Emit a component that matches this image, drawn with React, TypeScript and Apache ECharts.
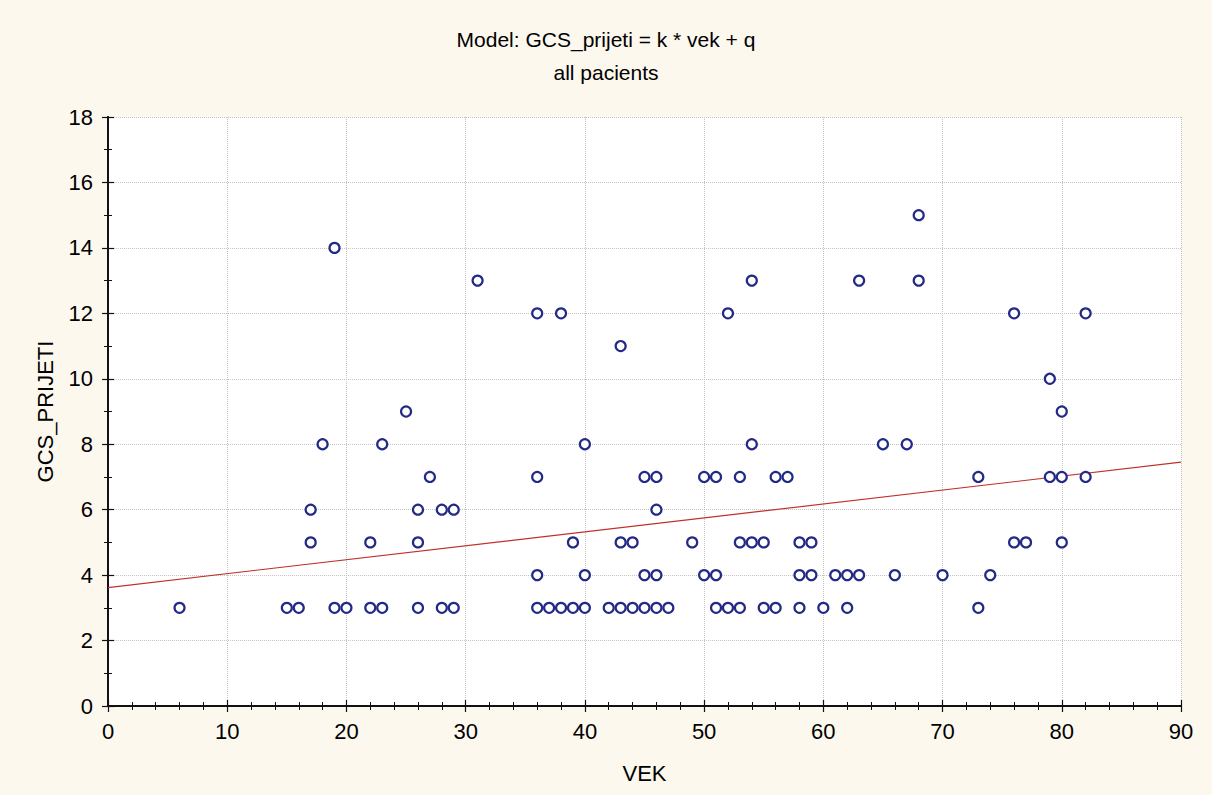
import React, { useEffect, useRef } from "react";
import * as echarts from "echarts";

// Ages (VEK) of patients grouped by their GCS_PRIJETI value
const gcsLevels = [3, 4, 5, 6, 7, 8, 9, 10, 11, 12, 13, 14, 15];
const agesAtGcs3 = [6, 15, 16, 19, 20, 22, 23, 26, 28, 29, 36, 37, 38, 39, 40, 42, 43, 44, 45, 46, 47, 51, 52, 53, 55, 56, 58, 60, 62, 73];
const agesAtGcs4 = [36, 40, 45, 46, 50, 51, 58, 59, 61, 62, 63, 66, 70, 74];
const agesAtGcs5 = [17, 22, 26, 39, 43, 44, 49, 53, 54, 55, 58, 59, 76, 77, 80];
const agesAtGcs6 = [17, 26, 28, 29, 46];
const agesAtGcs7 = [27, 36, 45, 46, 50, 51, 53, 56, 57, 73, 79, 80, 82];
const agesAtGcs8 = [18, 23, 40, 54, 65, 67];
const agesAtGcs9 = [25, 80];
const agesAtGcs10 = [79];
const agesAtGcs11 = [43];
const agesAtGcs12 = [36, 38, 52, 76, 82];
const agesAtGcs13 = [31, 54, 63, 68];
const agesAtGcs14 = [19];
const agesAtGcs15 = [68];
const agesByLevel = [agesAtGcs3, agesAtGcs4, agesAtGcs5, agesAtGcs6, agesAtGcs7, agesAtGcs8, agesAtGcs9, agesAtGcs10, agesAtGcs11, agesAtGcs12, agesAtGcs13, agesAtGcs14, agesAtGcs15];

// Fitted model line GCS_prijeti = k * vek + q (endpoints)
const fitX = [0, 90];
const fitY = [3.62, 7.45];

const titleText = "Model: GCS_prijeti = k * vek + q";
const subtitleText = "all pacients";
const xName = "VEK";
const yName = "GCS_PRIJETI";

export default function App() {
  const ref = useRef<HTMLDivElement>(null);
  useEffect(() => {
    if (!ref.current) return;
    const chart = echarts.init(ref.current, null, { renderer: "svg" });
    const points: number[][] = [];
    gcsLevels.forEach((g, i) => agesByLevel[i].forEach((a) => points.push([a, g])));
    const fitData = fitX.map((x, i) => [x, fitY[i]]);
    const font = "Liberation Sans, Arial, sans-serif";
    const baseAxis = {
      type: "value" as const,
      min: 0,
      axisLine: { show: true, lineStyle: { color: "#111", width: 1.8 } },
      axisTick: { show: true, inside: true, length: 6, lineStyle: { color: "#111", width: 1.2 } },
      minorTick: { show: true, length: 4, lineStyle: { color: "#111" } },
      splitLine: { show: false },
    };
    chart.setOption({
      animation: false,
      backgroundColor: "#fcf8ee",
      title: [
        { text: titleText, left: "center", top: 24, textStyle: { fontFamily: font, fontWeight: "normal", fontSize: 21, color: "#000" } },
        { text: subtitleText, left: "center", top: 57, textStyle: { fontFamily: font, fontWeight: "normal", fontSize: 21, color: "#000" } },
      ],
      grid: { left: 108, right: 31, top: 117, bottom: 89, show: true, backgroundColor: "#ffffff", borderWidth: 0 },
      xAxis: [
        {
          ...baseAxis,
          position: "bottom",
          max: 90,
          interval: 10,
          minorTick: { ...baseAxis.minorTick, splitNumber: 5 },
          axisLabel: { show: true, fontFamily: font, fontSize: 22, color: "#000", margin: 14 },
          splitLine: { show: true, lineStyle: { color: "#c4c4c4", type: "dotted", width: 1 } },
          name: xName,
          nameLocation: "middle",
          nameGap: 56,
          nameTextStyle: { fontFamily: font, fontSize: 22, color: "#000" },
        },
        {
          ...baseAxis,
          position: "top",
          max: 90,
          interval: 10,
          minorTick: { ...baseAxis.minorTick, splitNumber: 5 },
          axisLabel: { show: false },
        },
      ],
      yAxis: [
        {
          ...baseAxis,
          position: "left",
          max: 18,
          interval: 2,
          minorTick: { ...baseAxis.minorTick, splitNumber: 2 },
          axisLabel: { show: true, fontFamily: font, fontSize: 22, color: "#000", margin: 15 },
          splitLine: { show: true, lineStyle: { color: "#c4c4c4", type: "dotted", width: 1 } },
          name: yName,
          nameLocation: "middle",
          nameGap: 52,
          nameRotate: 90,
          nameTextStyle: { fontFamily: font, fontSize: 22, color: "#000" },
        },
        {
          ...baseAxis,
          position: "right",
          max: 18,
          interval: 2,
          minorTick: { ...baseAxis.minorTick, splitNumber: 2 },
          axisLabel: { show: false },
        },
      ],
      series: [
        {
          type: "line",
          data: fitData,
          xAxisIndex: 0,
          yAxisIndex: 0,
          showSymbol: false,
          symbol: "none",
          lineStyle: { color: "#c0302c", width: 1.2 },
          silent: true,
          z: 2,
        },
        {
          type: "scatter",
          data: points,
          xAxisIndex: 0,
          yAxisIndex: 0,
          symbol: "circle",
          symbolSize: 10,
          itemStyle: { color: "#ffffff", borderColor: "#232a86", borderWidth: 2.2, opacity: 1 },
          z: 3,
        },
      ],
    });
    return () => chart.dispose();
  }, []);
  return <div ref={ref} style={{ position: "fixed", left: 0, top: 0, width: 1212, height: 795 }} />;
}
